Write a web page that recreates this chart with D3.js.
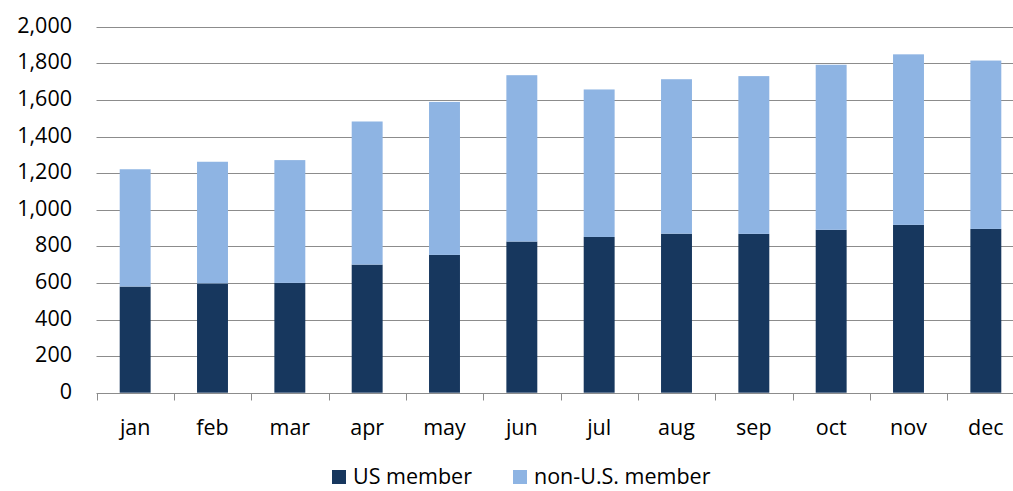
<!DOCTYPE html>
<html lang="en">
<head>
<meta charset="UTF-8">
<title>US vs non-US members</title>
<script src="https://d3js.org/d3.v7.min.js"></script>
<style>
  body { margin: 0; background: #fff; }
  svg { display: block; font-family: "Open Sans", "Noto Sans", sans-serif; }
</style>
</head>
<body>
<svg id="chart" width="1013" height="491"></svg>
<script>
// monthly counts
const months = ["jan", "feb", "mar", "apr", "may", "jun", "jul", "aug", "sep", "oct", "nov", "dec"];
const usMember = [580, 597, 600, 700, 753, 826, 851, 869, 868, 890, 917, 895];
const nonUsMember = [641, 665, 671, 782, 836, 909, 806, 844, 862, 902, 932, 920];
const seriesNames = ["US member", "non-U.S. member"];
const yTicks = [0, 200, 400, 600, 800, 1000, 1200, 1400, 1600, 1800, 2000];

const colors = ["#17375e", "#8eb4e3"];
const fontSize = 21.5;

const svg = d3.select("#chart");
const margin = { left: 96.5, top: 26.7, bottom: 98.3 };
const plotRight = 1024.5; // the reference is cropped before the plot ends
const height = 491;

const rows = months.map((m, i) => ({ month: m, us: usMember[i], non: nonUsMember[i] }));
const stacked = d3.stack().keys(["us", "non"])(rows);

const x = d3.scaleBand().domain(months).range([margin.left, plotRight]).paddingInner(0.6).paddingOuter(0.3);
const y = d3.scaleLinear().domain([0, 2000]).range([height - margin.bottom, margin.top]);

// gridlines
svg.append("g")
  .selectAll("line")
  .data(yTicks.slice(1))
  .join("line")
  .attr("x1", margin.left).attr("x2", 1013)
  .attr("y1", d => Math.round(y(d)) + 0.5).attr("y2", d => Math.round(y(d)) + 0.5)
  .attr("stroke", "#8c8c8c").attr("stroke-width", 1);

// bars
svg.append("g")
  .selectAll("g")
  .data(stacked)
  .join("g")
  .attr("fill", (d, i) => colors[i])
  .selectAll("rect")
  .data(d => d)
  .join("rect")
  .attr("x", d => x(d.data.month))
  .attr("width", x.bandwidth())
  .attr("y", d => y(d[1]))
  .attr("height", d => y(d[0]) - y(d[1]));

// y axis labels
svg.append("g")
  .selectAll("text")
  .data(yTicks)
  .join("text")
  .attr("x", 72)
  .attr("y", d => y(d) - 1.5)
  .attr("dy", "0.35em")
  .attr("text-anchor", "end")
  .attr("font-size", fontSize)
  .attr("fill", "#000")
  .text(d => d3.format(",")(d));

// x axis line and ticks
const base = Math.round(y(0)) + 0.5;
svg.append("line")
  .attr("x1", margin.left).attr("x2", 1013)
  .attr("y1", base).attr("y2", base)
  .attr("stroke", "#8c8c8c");
const step = x.step();
svg.append("g")
  .selectAll("line")
  .data(d3.range(months.length + 1))
  .join("line")
  .attr("x1", i => Math.round(margin.left + i * step) + 0.5)
  .attr("x2", i => Math.round(margin.left + i * step) + 0.5)
  .attr("y1", base).attr("y2", base + 7)
  .attr("stroke", "#8c8c8c");

// month labels
svg.append("g")
  .selectAll("text")
  .data(months)
  .join("text")
  .attr("x", d => x(d) + x.bandwidth() / 2)
  .attr("y", 435)
  .attr("text-anchor", "middle")
  .attr("font-size", fontSize)
  .attr("fill", "#000")
  .text(d => d);

// legend
const legendX = [332, 513];
const legend = svg.append("g")
  .selectAll("g")
  .data(seriesNames)
  .join("g")
  .attr("transform", (d, i) => `translate(${legendX[i]},470)`);
legend.append("rect")
  .attr("width", 14).attr("height", 14)
  .attr("fill", (d, i) => colors[i]);
legend.append("text")
  .attr("x", 21).attr("y", 14)
  .attr("font-size", fontSize)
  .attr("fill", "#000")
  .text(d => d);
</script>
</body>
</html>
